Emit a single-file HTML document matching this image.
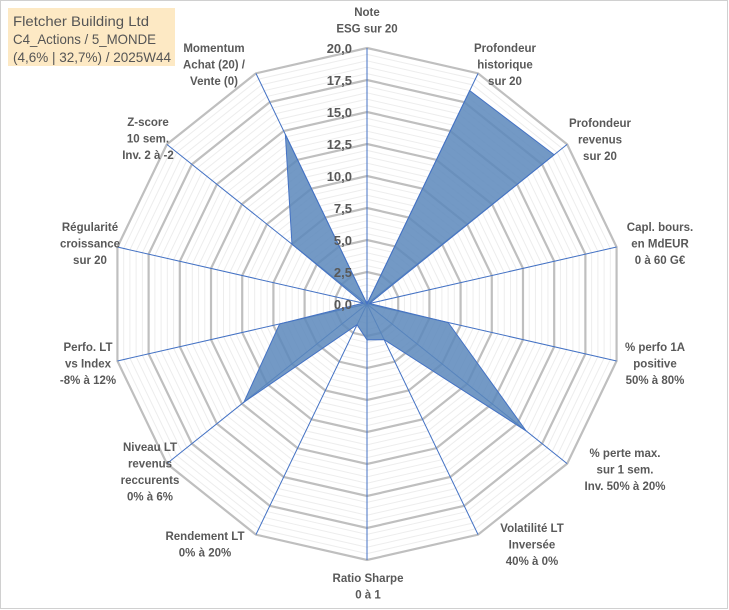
<!DOCTYPE html>
<html><head><meta charset="utf-8"><style>
html,body{margin:0;padding:0;background:#fff;}
svg{display:block;font-family:"Liberation Sans",Arial,sans-serif;}
.lbl{font-size:11.5px;font-weight:bold;fill:#595959;}
.tick{font-size:13px;font-weight:bold;fill:#595959;}
</style></head><body>
<svg id="chart" width="729" height="610" viewBox="0 0 729 610">
<rect x="0.5" y="0.5" width="727" height="608" fill="#fff" stroke="#d0d0d0"/>
<g id="grid"></g>
<g id="axes"></g>
<g id="series"></g>
<g id="ticks"></g>
<g id="labels"></g>
<rect x="8" y="8" width="167" height="58" fill="#fde9c4"/>
<text x="13" y="26" font-size="14" fill="#555" textLength="136" lengthAdjust="spacingAndGlyphs">Fletcher Building Ltd</text>
<text x="13" y="44" font-size="14" fill="#555" textLength="143" lengthAdjust="spacingAndGlyphs">C4_Actions / 5_MONDE</text>
<text x="13" y="62" font-size="14" fill="#555" textLength="158" lengthAdjust="spacingAndGlyphs">(4,6% | 32,7%) / 2025W44</text>
</svg>
<script>
const categories=[["Note","ESG sur 20"],["Profondeur","historique","sur 20"],["Profondeur","revenus","sur 20"],["Capl. bours.","en MdEUR","0 à 60 G€"],["% perfo 1A","positive","50% à 80%"],["% perte max.","sur 1 sem.","Inv. 50% à 20%"],["Volatilité LT","Inversée","40% à 0%"],["Ratio Sharpe","0 à 1"],["Rendement LT","0% à 20%"],["Niveau LT","revenus","reccurents","0% à 6%"],["Perfo. LT","vs Index","-8% à 12%"],["Régularité","croissance","sur 20"],["Z-score","10 sem.","Inv. 2 à -2"],["Momentum","Achat (20) /","Vente (0)"]];
const values=[0,18.5,18.7,0.2,6.5,15.9,3.1,2.8,1.8,12.3,7.0,0.3,7.5,14.7];
const tickLabels=["0,0","2,5","5,0","7,5","10,0","12,5","15,0","17,5","20,0"];
const labelPos=[[367,12],[505,48],[600,123],[660,227],[655,347],[625,453],[532,528],[368,578],[205,536],[150,447],[88,347],[90,227],[148,122],[214,48]];
const NS="http://www.w3.org/2000/svg";
const cx=367,cy=304,R=256,maxV=20,n=categories.length;
function ang(i){return i*2*Math.PI/n;}
function pt(i,v){const r=v/maxV*R;return [cx+r*Math.sin(ang(i)),cy-r*Math.cos(ang(i))];}
function mk(tag,attrs,parent){const e=document.createElementNS(NS,tag);for(const k in attrs)e.setAttribute(k,attrs[k]);parent.appendChild(e);return e;}
const grid=document.getElementById('grid');
for(let s=1;s<=40;s++){const v=s*0.5;const major=s%5===0;
 const pts=[];for(let i=0;i<n;i++)pts.push(pt(i,v).join(','));
 const p=mk('polygon',{points:pts.join(' '),fill:'none',stroke:major?'#bfbfbf':'#ededed','stroke-width':major?2.2:1},grid);
 
 }
const axes=document.getElementById('axes');
for(let i=0;i<n;i++){const [x,y]=pt(i,maxV);
 const l=mk('line',{x1:cx,y1:cy,x2:x,y2:y,stroke:'#4472c4','stroke-width':1},axes);
 
 }
const ser=document.getElementById('series');
const sp=values.map((v,i)=>pt(i,v).join(',')).join(' ');
const poly=mk('polygon',{points:sp,fill:'#5b87bb','fill-opacity':0.85,stroke:'#4472c4','stroke-width':1},ser);


const ticks=document.getElementById('ticks');
tickLabels.forEach((t,k)=>{const y=cy-(k*2.5)/maxV*R;
 const e=mk('text',{x:352,y:y+5,'text-anchor':'end',class:'tick'},ticks);e.textContent=t;
 
 });
const labels=document.getElementById('labels');
categories.forEach((lines,i)=>{const [x,y]=labelPos[i];
 const t=mk('text',{x:x,y:y+4,'text-anchor':'middle',class:'lbl'},labels);
 
 
 lines.forEach((ln,j)=>{const ts=mk('tspan',{x:x,dy:j===0?0:16.5},t);ts.textContent=ln;});});
</script>
</body></html>
